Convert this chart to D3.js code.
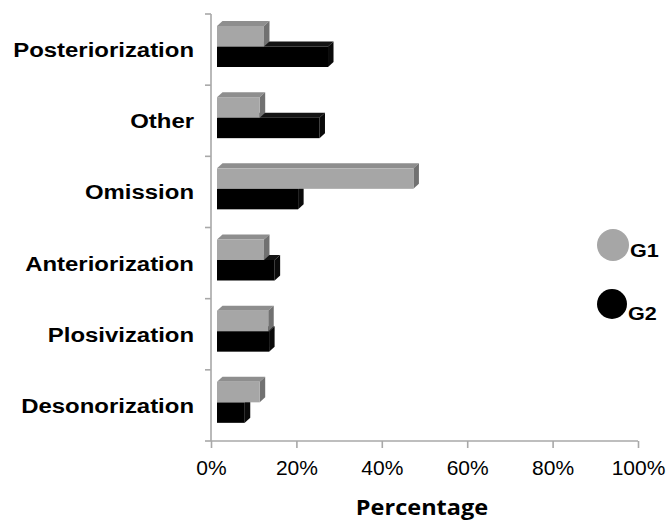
<!DOCTYPE html>
<html>
<head>
<meta charset="utf-8">
<script src="https://cdn.jsdelivr.net/npm/d3@7"></script>
<style>
  html, body { margin: 0; padding: 0; background: #fff; }
  svg { display: block; }
</style>
</head>
<body>
<svg id="chart" width="669" height="523"></svg>
<script>
// Error types, top to bottom
const categories = ["Posteriorization", "Other", "Omission", "Anteriorization", "Plosivization", "Desonorization"];
const seriesNames = ["G1", "G2"];
const g1Values = [11, 10, 46, 11, 12, 10];
const g2Values = [26, 24, 19, 13.5, 12.2, 6.5];
const tickValues = [0, 20, 40, 60, 80, 100];
const axisTitle = "Percentage";

const svg = d3.select("#chart");
const W = 669, H = 523;
svg.append("rect").attr("width", W).attr("height", H).attr("fill", "#fff");

const plot = { left: 211, right: 638, top: 14, bottom: 441 };

const x = d3.scaleLinear().domain([0, 100]).range([plot.left, plot.right]);
const y = d3.scaleBand().domain(categories).range([plot.top, plot.bottom]);
const inner = d3.scaleBand().domain(seriesNames).range([12, 53]);

// 3D depth offset of the boxes
const depthX = 5.5, depthY = 5;
const frontShift = 6;

const colors = {
  G1: { front: "#a6a6a6", top: "#8e8e8e", side: "#717171" },
  G2: { front: "#000000", top: "#141414", side: "#0a0a0a" }
};

const rows = categories.map((c, i) => ({ cat: c, G1: g1Values[i], G2: g2Values[i] }));

// Axes lines
const axisColor = "#a8a8a8";
svg.append("line")
  .attr("x1", plot.left).attr("x2", plot.left)
  .attr("y1", plot.top).attr("y2", plot.bottom)
  .attr("stroke", axisColor).attr("stroke-width", 1.6);

// Category boundary ticks on the vertical axis
const boundaries = categories.map(c => y(c)).concat([plot.bottom]);
svg.selectAll(".ytick").data(boundaries).enter().append("line")
  .attr("x1", plot.left - 6).attr("x2", plot.left)
  .attr("y1", d => d).attr("y2", d => d)
  .attr("stroke", axisColor).attr("stroke-width", 1.6);

// Bottom value axis
const xAxis = d3.axisBottom(x).tickValues(tickValues).tickFormat(d => d + "%").tickSize(7).tickPadding(12);
const gx = svg.append("g").attr("transform", `translate(0,${plot.bottom})`).call(xAxis);
gx.select(".domain").attr("stroke", axisColor).attr("stroke-width", 1.6)
  .attr("d", `M${plot.left},0H${plot.right}`);
gx.selectAll(".tick line").attr("stroke", axisColor).attr("stroke-width", 1.6);
gx.selectAll(".tick text")
  .attr("fill", "#000")
  .attr("font-family", "'Liberation Sans', Arial, sans-serif")
  .attr("font-size", 21)
  .attr("dy", "0.71em");

// Draw 3D boxes: series G2 first so G1 sits over its top face
function box(g, x0, x1, yTop, h, col) {
  // top face
  g.append("path")
    .attr("d", `M${x0},${yTop} L${x0 + depthX},${yTop - depthY} L${x1 + depthX},${yTop - depthY} L${x1},${yTop} Z`)
    .attr("fill", col.top);
  // side face
  g.append("path")
    .attr("d", `M${x1},${yTop} L${x1 + depthX},${yTop - depthY} L${x1 + depthX},${yTop + h - depthY} L${x1},${yTop + h} Z`)
    .attr("fill", col.side);
  // front face
  g.append("rect")
    .attr("x", x0).attr("y", yTop)
    .attr("width", x1 - x0).attr("height", h)
    .attr("fill", col.front);
}

const barsG = svg.append("g");
rows.forEach(r => {
  ["G2", "G1"].forEach(s => {
    const x0 = x(0) + frontShift;
    const x1 = x(r[s]) + frontShift;
    const yTop = y(r.cat) + inner(s);
    box(barsG, x0, x1, yTop, inner.bandwidth(), colors[s]);
  });
});

// Category labels
svg.selectAll(".cat").data(categories).enter().append("text")
  .attr("transform", d => `translate(194,${y(d) + y.bandwidth() / 2 + 7.5}) scale(1.14,1)`)
  .attr("text-anchor", "end")
  .attr("font-family", "'Liberation Sans', Arial, sans-serif")
  .attr("font-weight", "bold")
  .attr("font-size", 21)
  .attr("fill", "#000")
  .text(d => d);

// Axis title
svg.append("text")
  .attr("transform", `translate(422,515) scale(1.12,1)`)
  .attr("text-anchor", "middle")
  .attr("font-family", "'Open Sans', sans-serif")
  .attr("font-weight", "bold")
  .attr("font-size", 21)
  .attr("fill", "#000")
  .text(axisTitle);

// Legend
const legendItems = [
  { name: "G1", cx: 613, cy: 245, r: 16, color: colors.G1.front, tx: 630, ty: 257 },
  { name: "G2", cx: 612, cy: 304, r: 15, color: colors.G2.front, tx: 628, ty: 320 }
];
const lg = svg.append("g");
lg.selectAll("circle").data(legendItems).enter().append("circle")
  .attr("cx", d => d.cx).attr("cy", d => d.cy).attr("r", d => d.r)
  .attr("fill", d => d.color);
lg.selectAll("text").data(legendItems).enter().append("text")
  .attr("transform", d => `translate(${d.tx},${d.ty}) scale(1.2,1)`)
  .attr("font-family", "'Liberation Sans', Arial, sans-serif")
  .attr("font-weight", "bold")
  .attr("font-size", 18)
  .attr("fill", "#000")
  .text(d => d.name);
</script>
</body>
</html>
